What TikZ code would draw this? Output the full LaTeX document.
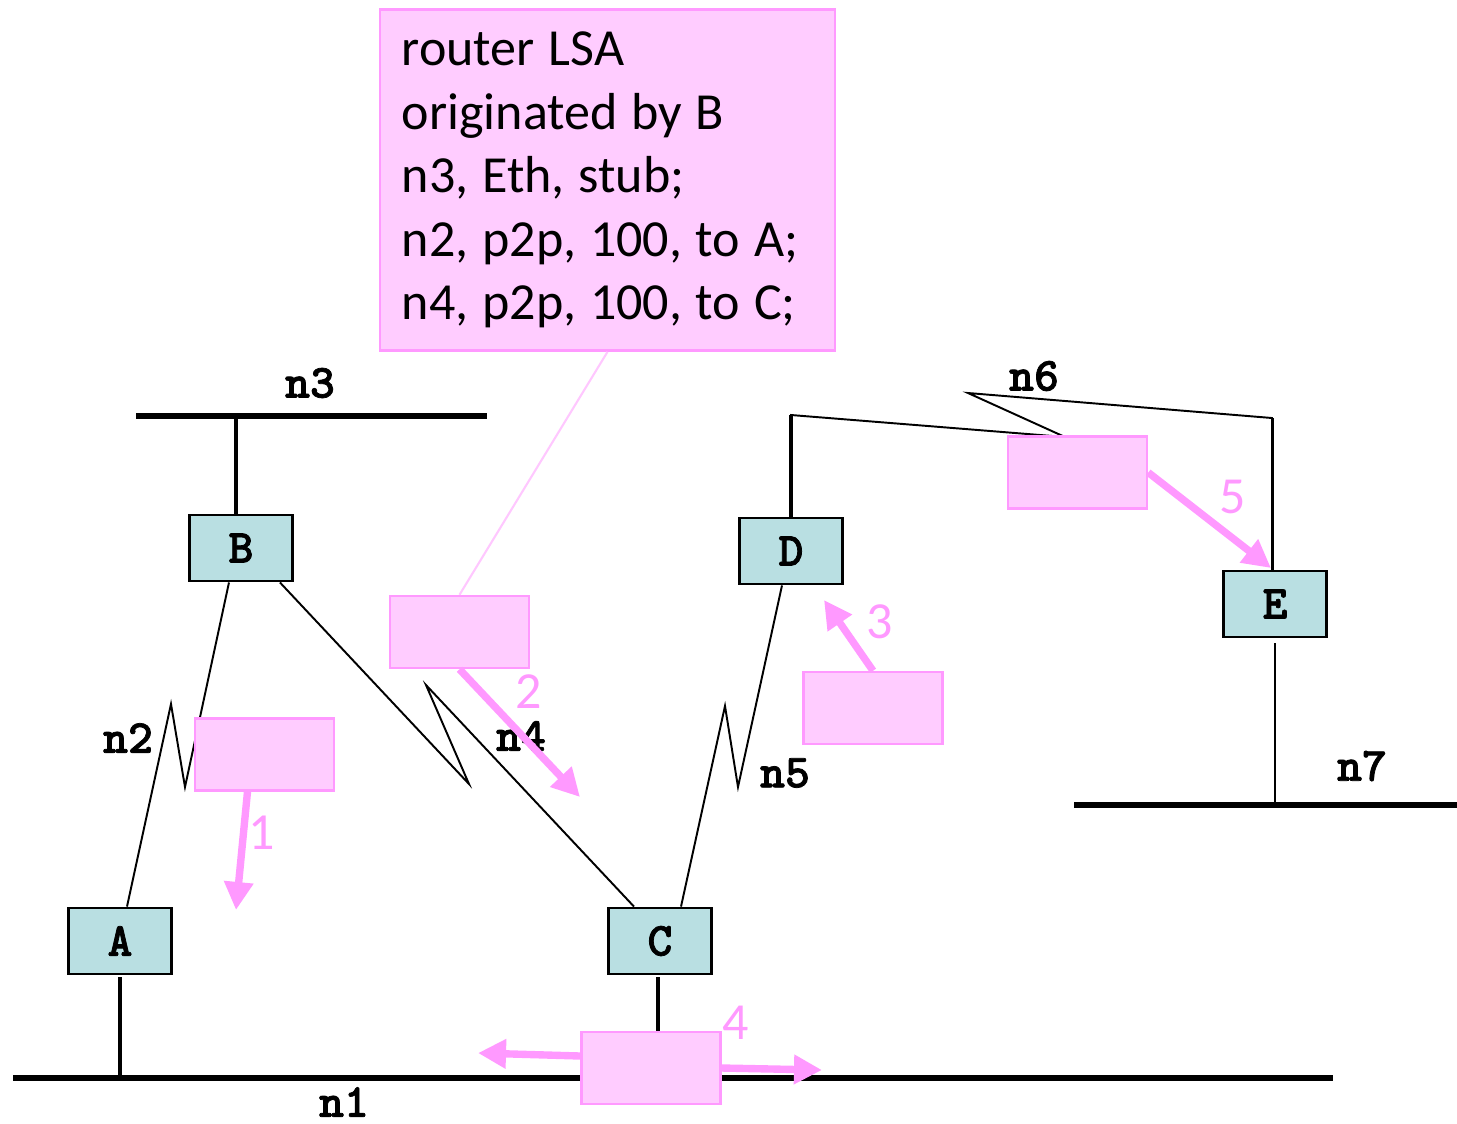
\documentclass[tikz,border=0pt]{standalone}
\usepackage{fontspec}
\setmainfont{Carlito}
\newfontfamily\netfont{lmmonolt10-bold}[Extension=.otf,FakeBold=1.6]
\usetikzlibrary{arrows.meta}

\definecolor{lsafill}{RGB}{255,204,255}
\definecolor{lsaedge}{RGB}{255,153,255}
\definecolor{lsaline}{RGB}{255,200,255}
\definecolor{routerfill}{RGB}{185,223,226}

\begin{document}
\begin{tikzpicture}[x=0.01cm,y=-0.01cm,
    router/.style={rectangle,draw,line width=0.8pt,fill=routerfill,minimum width=1.03cm,minimum height=0.66cm,font=\fontsize{13.5}{15}\selectfont\netfont},
    flood/.style={rectangle,draw=lsaedge,line width=0.7pt,fill=lsafill,minimum width=1.39cm,minimum height=0.72cm},
    bus/.style={line width=1.9pt},
    stub/.style={line width=1.15pt},
    link/.style={line width=0.55pt},
    hop/.style={-{Triangle[length=0.28cm,width=0.28cm]},lsaedge,line width=2.1pt},
    netlabel/.style={font=\fontsize{13.5}{15}\selectfont\netfont},
    hopnum/.style={text=lsaedge,font=\fontsize{14.8}{18}\selectfont}]

  \useasboundingbox (0,0) rectangle (1457,1123);

  % networks
  \coordinate (n1l) at (13,1078);  \coordinate (n1r) at (1333,1078);
  \coordinate (n3l) at (136,416);  \coordinate (n3r) at (487,416);
  \coordinate (n7l) at (1074,805); \coordinate (n7r) at (1457,805);
  \draw[bus] (n1l) -- (n1r);
  \draw[bus] (n3l) -- (n3r);
  \draw[bus] (n7l) -- (n7r);

  % routers
  \node[router] (A) at (120,941) {A};
  \node[router] (B) at (241,548) {B};
  \node[router] (C) at (660,941) {C};
  \node[router] (D) at (791,551) {D};
  \node[router] (E) at (1275,604) {E};

  \draw[stub] ([xshift=-0.05cm]B.north) -- ([xshift=-0.05cm]B.north |- n3l);
  \draw[stub] ([yshift=-0.02cm]A.south) -- (A.south |- n1l);
  \draw[stub] ([xshift=-0.02cm,yshift=-0.02cm]C.south) -- ([xshift=-0.02cm]C.south |- n1l);
  \draw[link,line width=0.75pt] ([yshift=-0.05cm]E.south) -- (E.south |- n7l);

  % point-to-point links
  \coordinate (n2a) at (171,704);  \coordinate (n2b) at (185,787);
  \coordinate (n4a) at (469,784);  \coordinate (n4b) at (426,685);
  \coordinate (n5a) at (725,706);  \coordinate (n5b) at (738,787);
  \coordinate (n6a) at (791,415);  \coordinate (n6b) at (1065,437);
  \coordinate (n6c) at (968,393);  \coordinate (n6d) at (1272,418);
  \draw[link] ([xshift=0.07cm]A.north) -- (n2a) -- (n2b) -- ([xshift=-0.12cm]B.south);
  \draw[link] ([xshift=-0.14cm]B.south east) -- (n4a) -- (n4b) -- ([xshift=-0.26cm]C.north);
  \draw[link] ([xshift=0.21cm]C.north) -- (n5a) -- (n5b) -- ([xshift=-0.09cm]D.south);
  \draw[link] (D.north) -- (n6a) -- (n6b) -- (n6c) -- (n6d) -- (n6d |- E.north);
  \draw[stub] (D.north) -- (n6a);
  \draw[link,line width=0.85pt] (n6d) -- (n6d |- E.north);

  % the LSA and its copies
  \node[flood,minimum width=4.55cm,minimum height=3.41cm,text width=4.11cm,align=left,
        font=\fontsize{14.8}{18.07}\selectfont] (lsa) at (607.5,180)
    {\spaceskip=3.9pt\relax router LSA\\originated by B\\n3, Eth, stub;\\n2, p2p, 100, to A;\\n4, p2p, 100, to C;};
  \node[flood] (p1) at (264.5,754.5) {};
  \node[flood] (p2) at (459.5,632) {};
  \node[flood] (p3) at (873,708) {};
  \node[flood] (p4) at (651,1068) {};
  \node[flood] (p5) at (1077.5,472.5) {};
  \draw[lsaline,line width=0.6pt] (p2.north) -- (lsa.south);

  % labels
  \node[netlabel] (l1) at (344,1102) {n1};
  \node[netlabel] (l2) at (128,738) {n2};
  \node[netlabel] (l3) at (310,383) {n3};
  \node[netlabel] (l4) at (521,736) {n4};
  \node[netlabel] (l5) at (785,773) {n5};
  \node[netlabel] (l6) at (1034,376) {n6};
  \node[netlabel] (l7) at (1362,766) {n7};

  % flooding
  \coordinate (h1) at (236,910);
  \coordinate (h2) at (580,797);
  \coordinate (h3) at (824,600);
  \coordinate (h4l) at (478,1053);
  \coordinate (h4r) at (822,1070);
  \coordinate (h5) at (1271,568);
  \draw[hop] ([xshift=-0.17cm]p1.south) -- (h1);
  \draw[hop] (p2.south) -- (h2);
  \draw[hop] (p3.north) -- (h3);
  \draw[hop] ([yshift=0.12cm]p4.west) -- (h4l);
  \draw[hop] (p4.east) -- (h4r);
  \draw[hop] (p5.east) -- (h5);
  \node[hopnum] (t1) at (262,833) {1};
  \node[hopnum] (t2) at (529,692) {2};
  \node[hopnum] (t3) at (880,622) {3};
  \node[hopnum] (t4) at (736,1023) {4};
  \node[hopnum] (t5) at (1233,497) {5};

\end{tikzpicture}
\end{document}
